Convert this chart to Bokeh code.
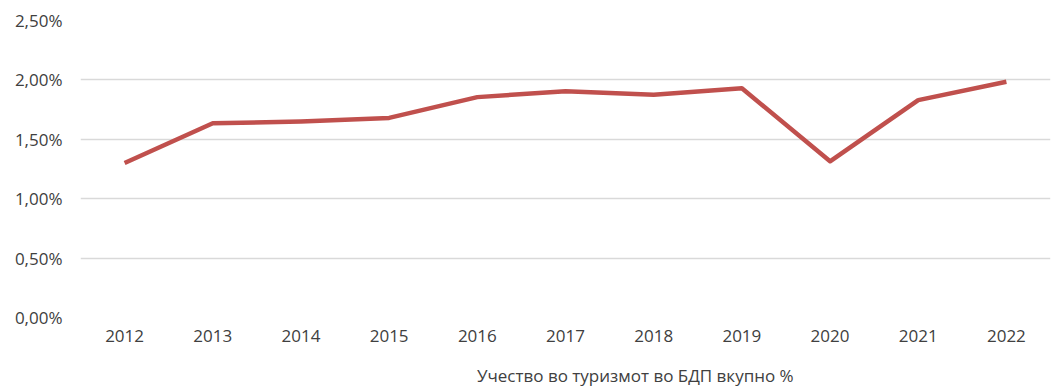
from bokeh.plotting import figure
from bokeh.layouts import column
from bokeh.models import ColumnDataSource, Range1d, CustomJSTickFormatter, Legend, LegendItem
from bokeh.embed import file_html
from bokeh.resources import INLINE

years = ["2012", "2013", "2014", "2015", "2016", "2017", "2018", "2019", "2020", "2021", "2022"]
share = [1.30, 1.635, 1.65, 1.68, 1.855, 1.905, 1.875, 1.93, 1.315, 1.83, 1.985]
series_name = "Учество во туризмот во БДП вкупно %"
y_ticks = [0, 0.5, 1.0, 1.5, 2.0, 2.5]

FONT = "Open Sans"
LINE_COLOR = "#C0504D"
TEXT_COLOR = "#404040"
src = ColumnDataSource(dict(x=years, y=share))

# main chart: frame spans x 80..1050, y 20..317
p = figure(width=1058, height=355, x_range=years, y_range=Range1d(0, 2.5),
           output_backend="svg", toolbar_location=None,
           min_border_left=80, min_border_right=8, min_border_top=20, min_border_bottom=38)
p.outline_line_color = None
p.background_fill_color = "white"
p.border_fill_color = "white"

r = p.line("x", "y", source=src, line_color=LINE_COLOR, line_width=4.5, line_join="round")

p.yaxis.ticker = y_ticks
p.yaxis.formatter = CustomJSTickFormatter(code="return tick.toFixed(2).replace('.', ',') + '%';")
for ax in (p.xaxis[0], p.yaxis[0]):
    ax.axis_line_color = None
    ax.major_tick_line_color = None
    ax.minor_tick_line_color = None
    ax.major_tick_out = 0
    ax.major_tick_in = 0
    ax.major_label_text_font = FONT
    ax.major_label_text_font_size = "17px"
    ax.major_label_text_color = TEXT_COLOR
p.yaxis.major_label_standoff = 18
p.xaxis.major_label_standoff = 12

p.xgrid.grid_line_color = None
p.ygrid.grid_line_color = "#D9D9D9"
p.ygrid.grid_line_width = 1.5

# legend strip below the chart
lg = figure(width=1058, height=37, x_range=Range1d(0, 1), y_range=Range1d(0, 1),
            output_backend="svg", toolbar_location=None, min_border=0)
lg.axis.visible = False
lg.grid.visible = False
lg.outline_line_color = None
lg.background_fill_color = "white"
lg.border_fill_color = "white"
lr = lg.line(x=[], y=[], line_color=LINE_COLOR, line_width=4.5)

legend = Legend(items=[LegendItem(label=series_name, renderers=[lr])],
                location=(348, 5), orientation="horizontal",
                label_text_font=FONT, label_text_font_size="17px", label_text_color=TEXT_COLOR,
                glyph_width=45, glyph_height=20, label_standoff=4, label_height=20,
                padding=0, margin=0, border_line_color=None, background_fill_alpha=0)
lg.add_layout(legend, "center")

layout = column(p, lg, spacing=0)
open("out.html", "w").write(file_html(layout, INLINE))
